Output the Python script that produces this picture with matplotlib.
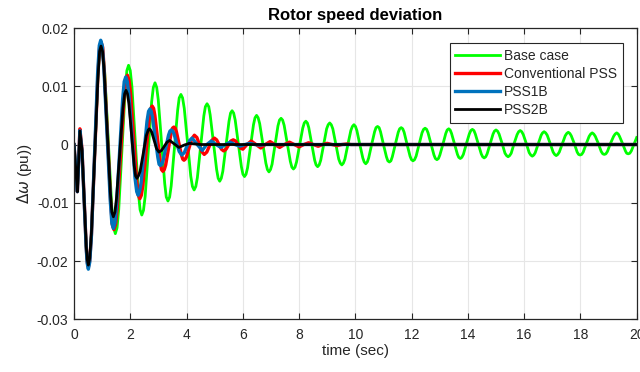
import matplotlib
matplotlib.use("Agg")
import matplotlib.pyplot as plt

plt.rcParams["font.family"] = ["Liberation Sans", "DejaVu Sans"]
plt.rcParams["axes.unicode_minus"] = False

# values (time in s, speed deviation in pu)
base_t = [
    0.00, 0.06, 0.12, 0.165, 0.21, 0.285, 0.36, 0.435, 0.51, 0.62,
    0.735, 0.85, 0.96, 1.09, 1.215, 1.34, 1.47, 1.59, 1.705, 1.82,
    1.94, 2.06, 2.175, 2.29, 2.41, 2.53, 2.645, 2.76, 2.88, 2.995,
    3.11, 3.225, 3.34, 3.455, 3.57, 3.685, 3.80, 3.92, 4.035, 4.15,
    4.27, 4.385, 4.50, 4.615, 4.73, 4.84, 4.955, 5.07, 5.18, 5.29,
    5.40, 5.51, 5.62, 5.73, 5.84, 5.95, 6.06, 6.17, 6.275, 6.38,
    6.49, 6.60, 6.71, 6.82, 6.93, 7.04, 7.145, 7.25, 7.36, 7.47,
    7.58, 7.69, 7.80, 7.91, 8.02, 8.13, 8.24, 8.345, 8.45, 8.555,
    8.66, 8.77, 8.875, 8.98, 9.09, 9.20, 9.305, 9.41, 9.52, 9.63,
    9.735, 9.84, 9.95, 10.055, 10.16, 10.265, 10.37, 10.475, 10.58, 10.685,
    10.79, 10.895, 11.0, 11.105, 11.21, 11.315, 11.42, 11.525, 11.63, 11.735,
    11.84, 11.945, 12.05, 12.16, 12.265, 12.37, 12.48, 12.585, 12.69, 12.795,
    12.90, 13.005, 13.11, 13.215, 13.32, 13.42, 13.525, 13.63, 13.73, 13.84,
    13.945, 14.05, 14.16, 14.265, 14.37, 14.475, 14.58, 14.685, 14.79, 14.895,
    15.00, 15.11, 15.215, 15.32, 15.43, 15.54, 15.645, 15.75, 15.86, 15.97,
    16.075, 16.18, 16.29, 16.395, 16.50, 16.605, 16.71, 16.82, 16.925, 17.03,
    17.14, 17.25, 17.355, 17.46, 17.57, 17.675, 17.78, 17.885, 17.99, 18.10,
    18.205, 18.31, 18.42, 18.53, 18.635, 18.74, 18.85, 18.96, 19.07, 19.18,
    19.29, 19.39, 19.495, 19.60, 19.70, 19.81, 19.915, 20.0,
]
base_y = [
    0.0, -0.0040, -0.0081, -0.0030, 0.0024, -0.0010, -0.0093, -0.0176, -0.0210, -0.0155,
    -0.0019, 0.0117, 0.0172, 0.0125, 0.0010, -0.0105, -0.0153, -0.0112, -0.0009, 0.0094,
    0.0136, 0.0099, 0.0008, -0.0083, -0.0121, -0.0089, -0.0008, 0.0073, 0.0106, 0.0077,
    0.0005, -0.0067, -0.0097, -0.0071, -0.0006, 0.0059, 0.0086, 0.0062, 0.0004, -0.0054,
    -0.0078, -0.0057, -0.0004, 0.0049, 0.0070, 0.0051, 0.0004, -0.0043, -0.0063, -0.0046,
    -0.0003, 0.0040, 0.0058, 0.0042, 0.0002, -0.0038, -0.0055, -0.0040, -0.0003, 0.0034,
    0.0050, 0.0036, 0.0002, -0.0032, -0.0047, -0.0034, -0.0001, 0.0032, 0.0045, 0.0033,
    0.0002, -0.0029, -0.0042, -0.0030, -0.0001, 0.0028, 0.0040, 0.0029, 0.0001, -0.0027,
    -0.0038, -0.0027, 0.0000, 0.0027, 0.0037, 0.0027, 0.0001, -0.0025, -0.0035, -0.0025,
    0.0000, 0.0024, 0.0034, 0.0024, 0.0000, -0.0023, -0.0033, -0.0023, 0.0000, 0.0022,
    0.0031, 0.0022, 0.0000, -0.0021, -0.0030, -0.0021, 0.0000, 0.0021, 0.0029, 0.0021,
    0.0000, -0.0020, -0.0028, -0.0020, 0.0000, 0.0020, 0.0028, 0.0020, 0.0001, -0.0018,
    -0.0026, -0.0018, 0.0000, 0.0019, 0.0027, 0.0019, 0.0001, -0.0017, -0.0024, -0.0017,
    0.0001, 0.0018, 0.0026, 0.0018, 0.0001, -0.0016, -0.0023, -0.0016, 0.0001, 0.0018,
    0.0025, 0.0018, 0.0002, -0.0015, -0.0021, -0.0015, 0.0002, 0.0017, 0.0024, 0.0017,
    0.0002, -0.0014, -0.0020, -0.0014, 0.0001, 0.0016, 0.0022, 0.0016, 0.0002, -0.0013,
    -0.0019, -0.0013, 0.0001, 0.0015, 0.0021, 0.0015, 0.0002, -0.0013, -0.0018, -0.0013,
    0.0001, 0.0014, 0.0020, 0.0014, 0.0002, -0.0012, -0.0017, -0.0012, 0.0002, 0.0014,
    0.0020, 0.0014, 0.0002, -0.0011, -0.0016, -0.0011, 0.0002, 0.0012,
]
# extra readings on both shoulders of each crest
base_crest_t = [
    0.47, 0.56, 0.91, 1.02, 1.41, 1.53, 1.88, 2.00, 2.35, 2.47,
    2.82, 2.94, 3.28, 3.40, 3.74, 3.86, 4.21, 4.33, 4.67, 4.79,
    5.125, 5.235, 5.565, 5.675, 6.005, 6.115, 6.435, 6.545, 6.875, 6.985,
    7.305, 7.415, 7.745, 7.855, 8.185, 8.295, 8.605, 8.715, 9.035, 9.145,
    9.465, 9.575, 9.895, 10.005, 10.315, 10.425, 10.735, 10.845, 11.155, 11.265,
    11.575, 11.685, 11.995, 12.105, 12.425, 12.535, 12.845, 12.955, 13.265, 13.37,
    13.675, 13.785, 14.105, 14.215, 14.525, 14.635, 14.945, 15.055, 15.375, 15.485,
    15.805, 15.915, 16.235, 16.345, 16.655, 16.765, 17.085, 17.195, 17.515, 17.625,
    17.935, 18.045, 18.365, 18.475, 18.795, 18.905, 19.235, 19.345, 19.645, 19.755,
]
base_crest_y = [
    -0.0200, -0.0196, 0.0163, 0.0162, -0.0143, -0.0143, 0.0127, 0.0127, -0.0112, -0.0113,
    0.0098, 0.0098, -0.0090, -0.0090, 0.0080, 0.0080, -0.0072, -0.0072, 0.0065, 0.0065,
    -0.0058, -0.0058, 0.0054, 0.0054, -0.0051, -0.0051, 0.0046, 0.0046, -0.0043, -0.0043,
    0.0042, 0.0042, -0.0039, -0.0039, 0.0037, 0.0037, -0.0035, -0.0035, 0.0034, 0.0034,
    -0.0032, -0.0032, 0.0031, 0.0031, -0.0030, -0.0030, 0.0029, 0.0029, -0.0028, -0.0028,
    0.0027, 0.0027, -0.0026, -0.0026, 0.0026, 0.0026, -0.0024, -0.0024, 0.0025, 0.0025,
    -0.0022, -0.0022, 0.0024, 0.0024, -0.0021, -0.0021, 0.0023, 0.0023, -0.0019, -0.0019,
    0.0022, 0.0022, -0.0018, -0.0018, 0.0020, 0.0020, -0.0017, -0.0017, 0.0019, 0.0019,
    -0.0017, -0.0017, 0.0018, 0.0018, -0.0016, -0.0016, 0.0018, 0.0018, -0.0015, -0.0015,
]

cpss_t = [
    0.00, 0.06, 0.12, 0.165, 0.21, 0.285, 0.36, 0.435, 0.51, 0.62,
    0.735, 0.85, 0.96, 1.075, 1.19, 1.305, 1.42, 1.54, 1.66, 1.78,
    1.90, 2.01, 2.12, 2.23, 2.34, 2.45, 2.56, 2.67, 2.78, 2.875,
    2.97, 3.065, 3.16, 3.26, 3.355, 3.45, 3.55, 3.64, 3.73, 3.82,
    3.91, 4.00, 4.095, 4.19, 4.28, 4.37, 4.455, 4.54, 4.63, 4.72,
    4.81, 4.90, 4.99, 5.07, 5.155, 5.24, 5.32, 5.405, 5.49, 5.575,
    5.66, 5.745, 5.83, 5.915, 6.00, 6.15, 6.30, 6.47, 6.64, 6.80,
    6.97, 7.14, 7.31, 7.48, 7.66, 7.83, 8.00, 8.17, 8.34, 8.51,
    8.68, 8.84, 9.00, 9.17, 9.35, 9.52, 9.70, 9.85, 20.0,
]
cpss_y = [
    0.0, -0.0040, -0.0081, -0.0030, 0.0027, -0.0008, -0.0092, -0.0176, -0.0211, -0.0155,
    -0.0018, 0.0120, 0.0176, 0.0129, 0.0015, -0.0099, -0.0146, -0.0108, -0.0014, 0.0080,
    0.0119, 0.0088, 0.0013, -0.0062, -0.0093, -0.0070, -0.0014, 0.0042, 0.0066, 0.0050,
    0.0010, -0.0030, -0.0046, -0.0035, -0.0008, 0.0019, 0.0030, 0.0022, 0.0002, -0.0018,
    -0.0027, -0.0021, -0.0005, 0.0010, 0.0016, 0.0012, 0.0000, -0.0012, -0.0017, -0.0013,
    -0.0003, 0.0007, 0.0011, 0.0008, 0.0000, -0.0008, -0.0011, -0.0008, -0.0001, 0.0006,
    0.0008, 0.0006, 0.0000, -0.0006, -0.0008, 0.0000, 0.0006, 0.0000, -0.0006, 0.0000,
    0.0005, 0.0000, -0.0005, 0.0000, 0.0004, 0.0000, -0.0004, 0.0000, 0.0003, 0.0000,
    -0.0003, 0.0000, 0.0002, 0.0000, -0.0002, 0.0000, 0.0001, 0.0000, 0.0000,
]
cpss_crest_t = [0.47, 0.56, 0.91, 1.02, 1.36, 1.48, 1.845, 1.955, 2.285, 2.395,
                2.73, 2.83, 3.11, 3.21, 3.50, 3.60, 3.865, 3.955]
cpss_crest_y = [-0.0201, -0.0199, 0.0167, 0.0167, -0.0137, -0.0137, 0.0111, 0.0111,
                -0.0087, -0.0087, 0.0062, 0.0062, -0.0043, -0.0043, 0.0028, 0.0028,
                -0.0025, -0.0025]

pss1b_t = [
    0.00, 0.06, 0.12, 0.165, 0.21, 0.285, 0.36, 0.435, 0.51, 0.62,
    0.73, 0.84, 0.95, 1.06, 1.175, 1.29, 1.40, 1.51, 1.62, 1.73,
    1.84, 1.95, 2.06, 2.17, 2.28, 2.385, 2.49, 2.595, 2.70, 2.79,
    2.885, 2.98, 3.07, 3.17, 3.265, 3.36, 3.46, 3.55, 3.645, 3.74,
    3.83, 3.92, 4.015, 4.11, 4.20, 4.38, 4.56, 4.72, 4.88, 5.05,
    5.22, 5.38, 5.55, 5.72, 5.90, 6.07, 6.25, 6.42, 6.60, 6.80,
    20.0,
]
pss1b_y = [
    0.0, -0.0040, -0.0081, -0.0030, 0.0024, -0.0011, -0.0095, -0.0179, -0.0214, -0.0157,
    -0.0018, 0.0122, 0.0179, 0.0133, 0.0018, -0.0097, -0.0144, -0.0106, -0.0014, 0.0078,
    0.0116, 0.0087, 0.0015, -0.0058, -0.0087, -0.0066, -0.0013, 0.0040, 0.0061, 0.0047,
    0.0012, -0.0022, -0.0036, -0.0027, -0.0005, 0.0016, 0.0025, 0.0019, 0.0003, -0.0012,
    -0.0018, -0.0014, -0.0003, 0.0007, 0.0011, 0.0000, -0.0010, 0.0000, 0.0006, 0.0000,
    -0.0005, 0.0000, 0.0004, 0.0000, -0.0003, 0.0000, 0.0002, 0.0000, -0.0001, 0.0000,
    0.0000,
]
pss1b_crest_t = [0.47, 0.56, 0.90, 1.005, 1.345, 1.455, 1.785, 1.895, 2.23, 2.33,
                 2.65, 2.745, 3.025, 3.12, 3.41, 3.505]
pss1b_crest_y = [-0.0204, -0.0202, 0.0170, 0.0170, -0.0135, -0.0135, 0.0108, 0.0108,
                 -0.0081, -0.0081, 0.0057, 0.0057, -0.0034, -0.0034, 0.0023, 0.0023]

pss2b_t = [
    0.00, 0.06, 0.12, 0.165, 0.21, 0.285, 0.36, 0.435, 0.51, 0.62,
    0.735, 0.85, 0.96, 1.07, 1.18, 1.29, 1.40, 1.51, 1.625, 1.74,
    1.85, 1.95, 2.045, 2.14, 2.24, 2.35, 2.46, 2.57, 2.68, 2.765,
    2.85, 2.935, 3.02, 3.115, 3.21, 3.305, 3.40, 3.565, 3.73, 3.915,
    4.10, 4.50, 20.0,
]
pss2b_y = [
    0.0, -0.0040, -0.0081, -0.0030, 0.0023, -0.0010, -0.0092, -0.0174, -0.0207, -0.0152,
    -0.0019, 0.0114, 0.0169, 0.0127, 0.0023, -0.0081, -0.0124, -0.0093, -0.0016, 0.0062,
    0.0093, 0.0071, 0.0018, -0.0036, -0.0058, -0.0046, -0.0016, 0.0015, 0.0027, 0.0021,
    0.0007, -0.0007, -0.0013, -0.0010, -0.0003, 0.0004, 0.0007, 0.0001, -0.0005, -0.0001,
    0.0002, 0.0000, 0.0000,
]
pss2b_crest_t = [0.47, 0.56, 0.91, 1.015, 1.345, 1.455, 1.80, 1.90, 2.19, 2.29, 2.64, 2.72]
pss2b_crest_y = [-0.0197, -0.0195, 0.0160, 0.0160, -0.0116, -0.0116, 0.0087, 0.0087,
                 -0.0054, -0.0054, 0.0025, 0.0025]

x_ticks = [0, 2, 4, 6, 8, 10, 12, 14, 16, 18, 20]
y_ticks = [-0.03, -0.02, -0.01, 0, 0.01, 0.02]
y_ticklabels = ["-0.03", "-0.02", "-0.01", "0", "0.01", "0.02"]

axis_col = "#262626"


def merged(t, y, ct, cy):
    pts = sorted(zip(t + ct, y + cy))
    return [p[0] for p in pts], [p[1] for p in pts]


fig = plt.figure(figsize=(6.4, 3.72), dpi=100)
ax = fig.add_axes([0.1156, 0.1417, 0.8792, 0.7830])

series = [
    (base_t, base_y, base_crest_t, base_crest_y, "#00ff00", 2.0, "Base case"),
    (cpss_t, cpss_y, cpss_crest_t, cpss_crest_y, "#ff0000", 2.4, "Conventional PSS"),
    (pss1b_t, pss1b_y, pss1b_crest_t, pss1b_crest_y, "#0072bd", 2.4, "PSS1B"),
    (pss2b_t, pss2b_y, pss2b_crest_t, pss2b_crest_y, "black", 2.0, "PSS2B"),
]
for t, y, ct, cy, col, lw, name in series:
    tt, yy = merged(t, y, ct, cy)
    ax.plot(tt, yy, color=col, lw=lw, label=name, solid_joinstyle="round")

ax.set_xlim(0, 20)
ax.set_ylim(-0.03, 0.02)
ax.set_xticks(x_ticks)
ax.set_yticks(y_ticks)
ax.set_yticklabels(y_ticklabels)
ax.grid(True, color="#e6e6e6", lw=0.8)
ax.set_axisbelow(True)

for s in ax.spines.values():
    s.set_color(axis_col)
    s.set_linewidth(0.9)
ax.tick_params(direction="in", length=4, width=0.8, colors=axis_col,
               labelsize=10, top=True, right=True)
ax.tick_params(axis="x", pad=6)
ax.tick_params(axis="y", pad=4)

ax.set_title("Rotor speed deviation", fontsize=12, fontweight="bold", pad=6)
ax.set_xlabel("time (sec)", fontsize=11, color=axis_col, labelpad=2)
ax.set_ylabel(r"$\Delta\omega$ (pu))", fontsize=11, color=axis_col, labelpad=2)

leg = ax.legend(loc="upper right", bbox_to_anchor=(0.975, 0.9475),
                borderaxespad=0, fontsize=10, handlelength=3.2,
                handletextpad=0.3, labelspacing=0.3, fancybox=False,
                framealpha=1, edgecolor=axis_col, borderpad=0.4)
leg.get_frame().set_linewidth(0.8)
for txt in leg.get_texts():
    txt.set_color(axis_col)

fig.savefig("out.png", dpi=100)
